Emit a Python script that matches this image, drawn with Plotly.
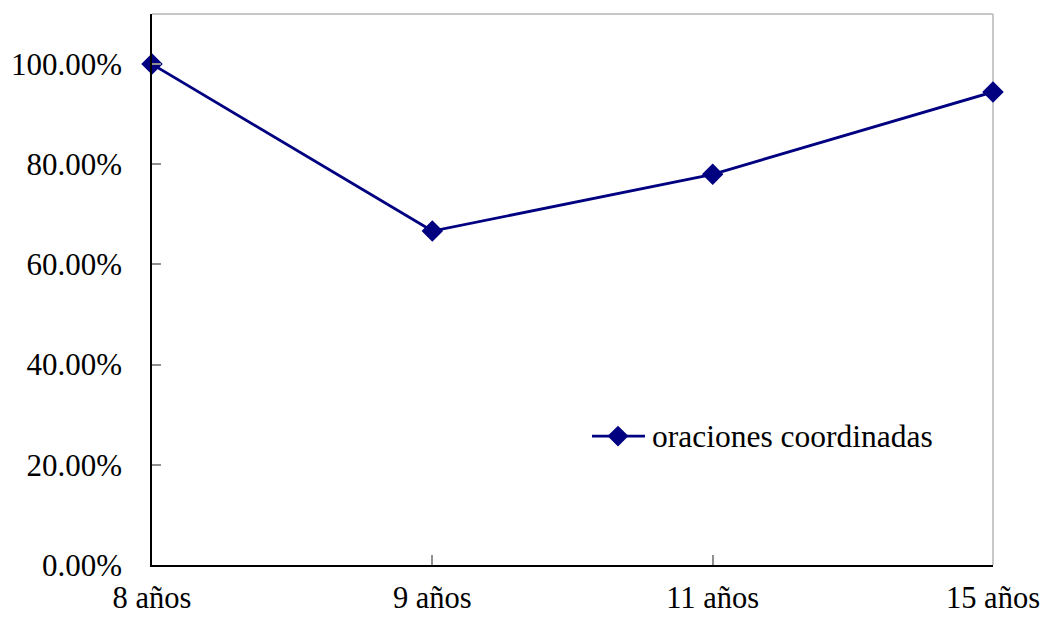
import plotly.graph_objects as go

categories = ["8 años", "9 años", "11 años", "15 años"]
values = [1.0, 0.6667, 0.78, 0.9444]
series_name = "oraciones coordinadas"
y_ticks = [0, 0.2, 0.4, 0.6, 0.8, 1.0]
y_tick_labels = ["0.00%", "20.00%", "40.00%", "60.00%", "80.00%", "100.00%"]

FONT = "Liberation Serif, Times New Roman, serif"
NAVY = "#000080"

fig = go.Figure()
fig.add_trace(go.Scatter(
    x=list(range(len(categories))), y=values, name=series_name,
    mode="lines+markers",
    line=dict(color=NAVY, width=2.8),
    marker=dict(symbol="diamond", size=16.5, color=NAVY),
    showlegend=False, cliponaxis=False,
))

# manual legend (paper coordinates) so the legend line matches the original length
leg_y = (565 - 436) / 551.5
lx0 = (592 - 152) / 841
lx1 = (645 - 152) / 841
lxm = (618 - 152) / 841
dx = 10.5 / 841
dy = 10.5 / 551.5

fig.update_layout(
    width=1048, height=617,
    margin=dict(l=152, r=55, t=13.5, b=52, autoexpand=False),
    paper_bgcolor="white", plot_bgcolor="white",
    font=dict(family=FONT, size=31, color="black"),
    showlegend=False,
    xaxis=dict(
        range=[0, len(categories) - 1], automargin=False,
        tickmode="array", tickvals=list(range(len(categories))), ticktext=categories,
        showgrid=False, zeroline=False,
        showline=True, linecolor="black", linewidth=1.5,
        ticks="inside", ticklen=10, tickcolor="#909090", tickwidth=1.5,
        ticklabelstandoff=5,
        tickfont=dict(family=FONT, size=30.5),
    ),
    yaxis=dict(
        range=[0, 1.1], automargin=False,
        tickmode="array", tickvals=y_ticks, ticktext=y_tick_labels,
        showgrid=False, zeroline=False,
        showline=True, linecolor="black", linewidth=1.5,
        ticks="inside", ticklen=9, tickcolor="#909090", tickwidth=1.5,
        ticklabelstandoff=22,
    ),
    shapes=[
        dict(type="line", xref="paper", yref="paper", x0=0, x1=1, y0=1, y1=1,
             line=dict(color="#c8c8c8", width=2), layer="below"),
        dict(type="line", xref="paper", yref="paper", x0=1, x1=1, y0=0, y1=1,
             line=dict(color="#c8c8c8", width=2), layer="below"),
        dict(type="line", xref="paper", yref="paper", x0=lx0, x1=lx1, y0=leg_y, y1=leg_y,
             line=dict(color=NAVY, width=2.8)),
        dict(type="path", xref="paper", yref="paper",
             path=f"M {lxm - dx} {leg_y} L {lxm} {leg_y + dy} L {lxm + dx} {leg_y} L {lxm} {leg_y - dy} Z",
             fillcolor=NAVY, line=dict(color=NAVY, width=0)),
    ],
    annotations=[
        dict(text=series_name, xref="paper", yref="paper", x=(650 - 152) / 841, y=leg_y,
             xanchor="left", yanchor="middle", showarrow=False,
             font=dict(family=FONT, size=31.5, color="black")),
    ],
)

fig.write_html("out.html")
